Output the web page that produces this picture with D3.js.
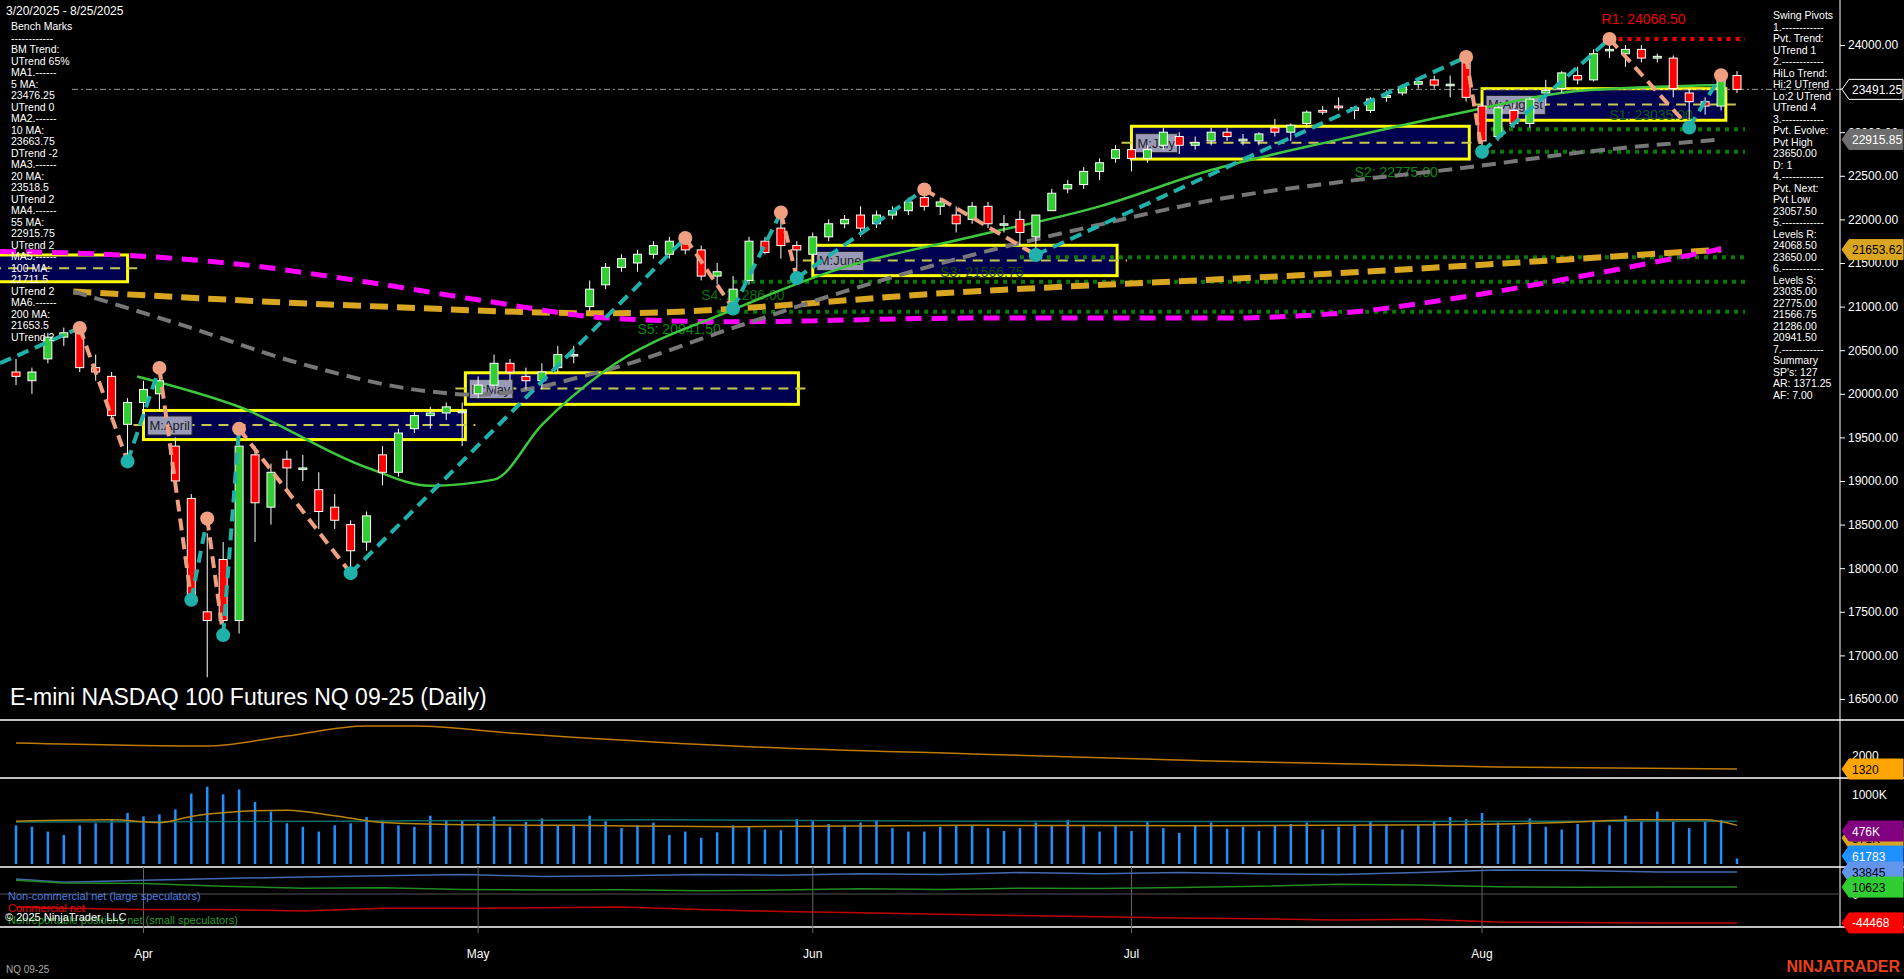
<!DOCTYPE html>
<html><head><meta charset="utf-8">
<script src="https://cdn.jsdelivr.net/npm/d3@7"></script>
<style>
body{margin:0;background:#000;overflow:hidden}
text{font-family:"Liberation Sans",Arial,sans-serif}
</style></head><body>
<script>
// daily bars 3/20/2025 - 8/25/2025 : [open, high, low, close]
const dates = ["3/20","3/21","3/24","3/25","3/26","3/27","3/28","3/31","4/1","4/2","4/3","4/4","4/7","4/8","4/9","4/10","4/11","4/14","4/15","4/16","4/17","4/21","4/22","4/23","4/24","4/25","4/28","4/29","4/30","5/1","5/2","5/5","5/6","5/7","5/8","5/9","5/12","5/13","5/14","5/15","5/16","5/19","5/20","5/21","5/22","5/23","5/27","5/28","5/29","5/30","6/2","6/3","6/4","6/5","6/6","6/9","6/10","6/11","6/12","6/13","6/16","6/17","6/18","6/20","6/23","6/24","6/25","6/26","6/27","6/30","7/1","7/2","7/3","7/7","7/8","7/9","7/10","7/11","7/14","7/15","7/16","7/17","7/18","7/21","7/22","7/23","7/24","7/25","7/28","7/29","7/30","7/31","8/1","8/4","8/5","8/6","8/7","8/8","8/11","8/12","8/13","8/14","8/15","8/18","8/19","8/20","8/21","8/22","8/25"];
const ohlc = [
[20250,20400,20100,20200],[20150,20300,20000,20250],[20400,20700,20350,20650],[20650,20760,20550,20700],[20700,20720,20250,20300],
[20300,20450,20150,20250],[20200,20250,19700,19750],[19650,19950,19250,19900],[19900,20150,19700,20050],[20000,20300,19800,20150],
[19400,19500,18900,19000],[18800,18850,17600,17700],[17500,18400,16750,17400],[18100,18300,17300,17400],[17400,19450,17250,19400],
[19300,19400,18300,18750],[18700,19200,18500,19100],[19250,19350,18900,19150],[19150,19300,19000,19150],[18900,19100,18450,18650],
[18700,18850,18450,18550],[18500,18550,17950,18200],[18300,18650,18200,18600],[19300,19400,18950,19100],[19100,19600,19050,19550],
[19600,19800,19550,19750],[19750,19850,19600,19780],[19780,19900,19700,19850],[19800,19900,19400,19800],[20000,20200,19950,20100],
[20100,20450,20050,20350],[20350,20400,20150,20250],[20200,20300,20050,20150],[20150,20350,20050,20250],[20300,20550,20250,20450],
[20450,20550,20350,20450],[21000,21300,20950,21200],[21250,21500,21200,21450],[21450,21600,21400,21550],[21500,21650,21400,21600],
[21600,21750,21550,21700],[21600,21800,21550,21750],[21750,21800,21600,21650],[21650,21700,21300,21350],[21350,21500,21250,21400],
[21050,21350,20950,21200],[21300,21800,21250,21750],[21750,21800,21600,21620],[21900,22080,21550,21700],[21700,21750,21350,21650],
[21600,21850,21500,21800],[21800,22000,21750,21950],[21950,22050,21900,22000],[22050,22150,21800,21900],[21950,22100,21900,22050],
[22050,22150,22000,22100],[22100,22250,22050,22200],[22250,22350,22100,22150],[22150,22250,22050,22200],[22050,22150,21850,21950],
[22000,22200,21950,22150],[22150,22200,21900,21950],[21950,22050,21850,21950],[22000,22100,21700,21850],[21800,22050,21600,22050],
[22100,22350,22100,22300],[22350,22450,22300,22400],[22400,22600,22350,22550],[22550,22700,22450,22650],[22700,22850,22650,22800],
[22800,22850,22550,22700],[22700,22850,22650,22800],[22850,23050,22800,23000],[22950,23000,22750,22850],[22850,22950,22800,22880],
[22900,23050,22850,23000],[23000,23050,22900,22950],[22900,22980,22850,22920],[22900,23000,22850,22980],[23050,23150,22950,23000],
[23000,23100,22900,23080],[23100,23250,23050,23230],[23250,23300,23200,23230],[23300,23400,23250,23280],[23280,23300,23150,23250],
[23250,23400,23220,23380],[23400,23480,23350,23420],[23450,23550,23420,23520],[23550,23620,23500,23580],[23600,23650,23500,23540],
[23550,23650,23400,23550],[23800,23860,23350,23400],[23300,23350,22700,22900],[22950,23300,22900,23280],[23250,23320,23050,23100],
[23100,23400,23050,23380],[23450,23600,23300,23480],[23500,23700,23450,23680],[23650,23750,23550,23600],[23600,23950,23580,23900],
[23950,24070,23850,23950],[23900,24000,23750,23950],[23950,24000,23800,23850],[23850,23900,23800,23870],[23850,23880,23400,23500],
[23450,23500,23050,23350],[23350,23400,23200,23300],[23300,23700,23250,23650],[23650,23700,23450,23491.25]];
// moving averages read at bar index
const ma20 = [[7.6,20199],[14,19851],[22,19155],[26,18946],[30,19016],[33,19643],[37,20269],[45,20965],[52,21453],[60,21801],[68,22149],[75,22566],[83,22915],[91,23235],[98,23472],[107,23541]];
const ma55 = [[3.6,21174],[10.5,20784],[18,20339],[25.7,20032],[28.8,19990],[37,20269],[45,20756],[52,21174],[60,21592],[68,21940],[75,22218],[83,22427],[91,22594],[98.5,22775],[107,22916]];
const ma100 = [[-1,21633],[6.6,21592],[14.3,21480],[21.9,21285],[29.5,21063],[37.2,20868],[44.8,20826],[60,20868],[75.4,20868],[83,20923],[90.6,21104],[98,21341],[107,21661]];
const ma200 = [[3.6,21174],[22,21007],[37,20923],[60,21174],[83,21383],[107,21654]];
// swing pivots [index, price]
const pivots = [[-1,20350],[4,20756],[7,19225],[9,20297],[11,17637],[12,18570],[13,17233],[14,19600],[21,17943],[42,21787],[45,20979],[48,22079],[49,21327],[57,22344],[64,21592],[91,23862],[92,22775],[100,24070],[105,23054],[107,23653]];
// monthly boxes [label, from, to, high, low]
const boxes = [["",-2,7,21592,21285],["M:April",8,28.2,19809,19475],["M:May",28.2,49.1,20241,19879],["M:June",50,69.1,21703,21355],["M:July",70,91.2,23068,22692],["M:August",92,107.3,23499,23137]];
// levels [label, price, from, colour]
const levels = [["R1: 24068.50",24068.5,100,"#e00"],["S1: 23035.00",23035,92,"#0a0"],["S2: 22775.00",22775,92,"#0a0"],["S3: 21566.75",21566.75,63,"#0a0"],["S4: 21286.00",21286,45,"#0a0"],["S5: 20941.50",20941.5,44,"#0a0"]];
const leftText = ["Bench Marks","------------","BM Trend:","UTrend 65%","MA1.------","5 MA:","23476.25","UTrend 0","MA2.------","10 MA:","23663.75","DTrend -2","MA3.------","20 MA:","23518.5","UTrend 2","MA4.------","55 MA:","22915.75","UTrend 2","MA5.------","100 MA:","21711.5","UTrend 2","MA6.------","200 MA:","21653.5","UTrend 2"];
const rightText = ["Swing Pivots","1.------------","Pvt. Trend:","UTrend 1","2.------------","HiLo Trend:","Hi:2 UTrend","Lo:2 UTrend","UTrend 4","3.------------","Pvt. Evolve:","Pvt High","23650.00","D: 1","4.------------","Pvt. Next:","Pvt Low","23057.50","5.------------","Levels R:","24068.50","23650.00","6.------------","Levels S:","23035.00","22775.00","21566.75","21286.00","20941.50","7.------------","Summary","SP's: 127","AR: 1371.25","AF: 7.00"];
// lower panels
const atr = [[0,2583],[12,2437],[17,2923],[22,3409],[25,3409],[31,3069],[45,2437],[60,2049],[75,1709],[93,1417],[108,1320]];
const volume = [560,540,470,420,560,590,650,740,690,720,790,1020,1120,1010,1080,900,760,590,540,470,560,590,680,620,560,540,700,640,630,590,690,540,610,660,560,560,700,620,520,560,600,420,470,380,460,560,550,500,490,650,620,580,560,600,640,520,470,470,540,560,560,520,480,520,600,560,640,560,470,560,480,610,520,450,560,600,510,540,480,560,580,600,500,540,560,620,580,500,560,620,680,650,740,600,560,660,540,500,580,620,560,700,620,760,620,520,610,640,80];
const volAvg = [[0,620],[6,640],[9,600],[11,690],[14,760],[17,780],[20,700],[23,600],[28,570],[35,560],[45,540],[60,560],[75,555],[90,570],[97,600],[102,640],[106,640],[108,560]];
const volSlow = [[0,610],[20,620],[40,640],[60,620],[80,615],[100,620],[108,620]];
const weeks = [0,3,8,13,18,23,28,33,38,43,48,53,58,63,68,73,78,83,88,93,98,103,108];
const cotLarge = [23000,18000,21000,24000,26000,28000,30000,27000,28000,30000,29000,31000,30000,33000,31000,33000,31000,30000,33000,37000,36000,34000,33845];
const cotSmall = [21000,17000,16000,12000,9000,9500,7000,6000,6500,5000,6000,8000,7000,9000,8500,10000,12000,15000,14000,11000,10500,10623,10623];
const cotComm = [-20000,-22000,-24000,-24000,-26000,-22000,-22000,-21000,-20000,-24000,-27000,-29000,-31000,-33000,-35000,-37000,-38000,-40000,-39000,-43000,-44000,-44468,-44468];
const months = [["Apr",8],["May",29],["Jun",50],["Jul",70],["Aug",92]];

const W = 1904, H = 979, AX = 1840;
const svg = d3.select("body").append("svg").attr("width", W).attr("height", H).style("background", "#000");

const x = d3.scaleLinear().domain([0, 108]).range([16, 1737]);
const y = d3.scaleLinear().domain([16500, 24000]).range([699, 45]);
const yAtr = d3.scaleLinear().domain([1320, 2000]).range([769, 755]);
const yVol = d3.scaleLinear().domain([0, 1000]).range([864, 795]);
const yCot = d3.scaleLinear().domain([0, 33845]).range([894, 872]);

svg.append("defs").append("clipPath").attr("id", "pc").append("rect").attr("width", AX).attr("height", 720);
const p = svg.append("g").attr("clip-path", "url(#pc)");
const line = (ys) => d3.line().x((d) => x(d[0])).y((d) => ys(d[1])).curve(d3.curveMonotoneX);

// monthly boxes
const bx = p.selectAll(".box").data(boxes).enter().append("g");
bx.append("rect").attr("x", (d) => x(d[1])).attr("y", (d) => y(d[3]))
  .attr("width", (d) => x(d[2]) - x(d[1])).attr("height", (d) => y(d[4]) - y(d[3]))
  .attr("fill", "#000050").attr("stroke", "#ffff00").attr("stroke-width", 3);
bx.append("line").attr("x1", (d) => x(d[1]) - 10).attr("x2", (d) => x(d[2]) + 10)
  .attr("y1", (d) => y((d[3] + d[4]) / 2)).attr("y2", (d) => y((d[3] + d[4]) / 2))
  .attr("stroke", "#c8c850").attr("stroke-width", 2).attr("stroke-dasharray", "10,7");

// levels
p.selectAll(".lvl").data(levels).enter().append("line")
  .attr("x1", (d) => x(d[2])).attr("x2", x(108.5)).attr("y1", (d) => y(d[1])).attr("y2", (d) => y(d[1]))
  .attr("stroke", (d) => d[3] === "#e00" ? "#e00" : "#0a7a0a").attr("stroke-width", 4).attr("stroke-dasharray", "4,5");
p.append("text").attr("x", x(99.5)).attr("y", 24).attr("fill", "#e00").attr("font-size", 14).text(levels[0][0]);
[[1, 100, 120, "#0b5e0b"], [2, 84, 177, "#0a8a0a"], [3, 58, 277, "#0b4e0b"], [4, 43, 300, "#0b6e0b"], [5, 39, 334, "#0a8a0a"]].forEach(([i, xi, yy, c]) =>
  p.append("text").attr("x", x(xi)).attr("y", yy).attr("fill", c).attr("font-size", 14).text(levels[i][0]));

// current price line
p.append("line").attr("x1", 72).attr("x2", AX).attr("y1", y(23491.25)).attr("y2", y(23491.25))
  .attr("stroke", "#999").attr("stroke-dasharray", "6,3,2,3");

// moving averages
p.append("path").datum(ma200).attr("d", line(y)).attr("fill", "none").attr("stroke", "#daa520").attr("stroke-width", 6).attr("stroke-dasharray", "18,9");
p.append("path").datum(ma100).attr("d", line(y)).attr("fill", "none").attr("stroke", "#ff00ff").attr("stroke-width", 5).attr("stroke-dasharray", "16,10");
p.append("path").datum(ma55).attr("d", line(y)).attr("fill", "none").attr("stroke", "#777").attr("stroke-width", 4).attr("stroke-dasharray", "14,8");
p.append("path").datum(ma20).attr("d", line(y)).attr("fill", "none").attr("stroke", "#3ec83e").attr("stroke-width", 2.5);

// candles
const cw = 8;
const c = p.selectAll(".c").data(ohlc).enter().append("g");
c.append("line").attr("x1", (d, i) => x(i)).attr("x2", (d, i) => x(i)).attr("y1", (d) => y(d[1])).attr("y2", (d) => y(d[2])).attr("stroke", "#fff");
c.append("rect").attr("x", (d, i) => x(i) - cw / 2).attr("width", cw)
  .attr("y", (d) => y(Math.max(d[0], d[3]))).attr("height", (d) => Math.max(1.5, Math.abs(y(d[0]) - y(d[3]))))
  .attr("fill", (d) => d[3] >= d[0] ? "#32cd32" : "#ff0000").attr("stroke", "#fff").attr("stroke-width", 1);

// swing legs
const legs = d3.pairs(pivots);
p.selectAll(".leg").data(legs).enter().append("line")
  .attr("x1", (d) => x(d[0][0])).attr("y1", (d) => y(d[0][1])).attr("x2", (d) => x(d[1][0])).attr("y2", (d) => y(d[1][1]))
  .attr("stroke", (d) => d[1][1] > d[0][1] ? "#20b2aa" : "#f0a080").attr("stroke-width", 4).attr("stroke-dasharray", "12,7");
p.selectAll(".pv").data(legs).enter().append("circle")
  .attr("cx", (d) => x(d[1][0])).attr("cy", (d) => y(d[1][1])).attr("r", 7)
  .attr("fill", (d) => d[1][1] > d[0][1] ? "#f0a080" : "#20b2aa");

// box labels
bx.filter((d) => d[0]).append("text").attr("x", (d) => x(d[1]) + 6).attr("y", (d) => y((d[3] + d[4]) / 2) + 5)
  .attr("fill", "#222").attr("font-family", "DejaVu Sans Mono").attr("font-size", 13).text((d) => d[0])
  .each(function () {
    const b = this.getBBox();
    d3.select(this.parentNode).insert("rect", "text").attr("x", b.x - 2).attr("y", b.y - 2).attr("width", b.width + 4).attr("height", b.height + 4).attr("fill", "#9a9ab8").attr("stroke", "#222");
  });

// side texts
svg.append("text").attr("x", 6).attr("y", 15).attr("fill", "#fff").attr("font-size", 12).text("3/20/2025 - 8/25/2025");
svg.selectAll(".lt").data(leftText).enter().append("text").attr("x", 11).attr("y", (d, i) => 30 + i * 11.5).attr("fill", "#fff").attr("font-size", 10.5).text((d) => d);
svg.selectAll(".rt").data(rightText).enter().append("text").attr("x", 1773).attr("y", (d, i) => 19 + i * 11.5).attr("fill", "#fff").attr("font-size", 10.5).text((d) => d);
svg.append("text").attr("x", 10).attr("y", 705).attr("fill", "#fff").attr("font-size", 23).text("E-mini NASDAQ 100 Futures NQ 09-25 (Daily)");

// price axis
const ax = svg.append("g").attr("transform", `translate(${AX},0)`)
  .call(d3.axisRight(y).tickValues(d3.range(16500, 24001, 500)).tickFormat(d3.format(".2f")).tickSize(5));
ax.select(".domain").remove();
ax.selectAll("line").attr("stroke", "#fff");
ax.selectAll("text").attr("fill", "#fff").attr("font-size", 12);
svg.append("line").attr("x1", AX).attr("x2", AX).attr("y1", 0).attr("y2", 927).attr("stroke", "#fff");

function tag(v, yy, fill, tc, edge) {
  const g = svg.append("g").attr("transform", `translate(${AX + 2},${yy})`);
  g.append("path").attr("d", "M0,0 L7,-10 L61,-10 L61,10 L7,10 Z").attr("fill", fill).attr("stroke", edge || fill).attr("stroke-width", 1);
  g.append("text").attr("x", 10).attr("y", 4.5).attr("fill", tc).attr("font-size", 12).text(v);
}
tag("23491.25", y(23491.25), "#000", "#fff", "#fff");
tag("22915.85", y(22915.85), "#6e6e6e", "#fff");
tag("21653.62", y(21653.62), "#daa520", "#000");

// panel separators
[720, 778, 867, 927].forEach((yy) => svg.append("line").attr("x1", 0).attr("x2", W).attr("y1", yy).attr("y2", yy).attr("stroke", "#fff").attr("stroke-width", 1.5));

// month grid + labels
months.forEach(([m, i]) => {
  svg.append("line").attr("x1", x(i)).attr("x2", x(i)).attr("y1", 867).attr("y2", 933).attr("stroke", "#666");
  svg.append("text").attr("x", x(i)).attr("y", 958).attr("text-anchor", "middle").attr("fill", "#fff").attr("font-size", 12).text(m);
});

// ATR panel
svg.append("path").datum(atr).attr("d", line(yAtr)).attr("fill", "none").attr("stroke", "#c07a00").attr("stroke-width", 1.5);
svg.append("text").attr("x", 1852).attr("y", 760).attr("fill", "#fff").attr("font-size", 12).text("2000");
tag("1320", 769, "#ffa500", "#000");

// volume panel
svg.selectAll(".v").data(volume).enter().append("line")
  .attr("x1", (d, i) => x(i)).attr("x2", (d, i) => x(i)).attr("y1", yVol(0)).attr("y2", (d) => yVol(d))
  .attr("stroke", "#1e90ff").attr("stroke-width", 2.5);
svg.append("path").datum(volSlow).attr("d", line(yVol)).attr("fill", "none").attr("stroke", "#0b6e6e").attr("stroke-width", 1.5);
svg.append("path").datum(volAvg).attr("d", line(yVol)).attr("fill", "none").attr("stroke", "#b8860b").attr("stroke-width", 1.5);
svg.append("text").attr("x", 1852).attr("y", 799).attr("fill", "#fff").attr("font-size", 12).text("1000K");
tag("571K", 838, "#daa520", "#000");
tag("476K", 831, "#800080", "#fff");
tag("61783", 856, "#1e90ff", "#fff");

// COT panel
svg.append("line").attr("x1", 0).attr("x2", AX).attr("y1", yCot(0)).attr("y2", yCot(0)).attr("stroke", "#555");
const cl = (arr, col) => svg.append("path").datum(weeks.map((w, i) => [w, arr[i]])).attr("d", d3.line().x((d) => x(d[0])).y((d) => yCot(d[1])))
  .attr("fill", "none").attr("stroke", col).attr("stroke-width", 1.5);
cl(cotLarge, "#4169b0"); cl(cotSmall, "#228b22"); cl(cotComm, "#c00000");
svg.append("text").attr("x", 1852).attr("y", 899).attr("fill", "#fff").attr("font-size", 12).text("0");
tag("33845", yCot(33845), "#6495ed", "#000");
tag("10623", yCot(10623), "#32cd32", "#000");
tag("-44468", yCot(-44468), "#ff0000", "#fff");
svg.append("text").attr("x", 8).attr("y", 900).attr("fill", "#4a7fe0").attr("font-size", 11).text("Non-commercial net (large speculators)");
svg.append("text").attr("x", 8).attr("y", 912).attr("fill", "#e00").attr("font-size", 11).text("Commercial net");
svg.append("text").attr("x", 8).attr("y", 924).attr("fill", "#2a9a2a").attr("font-size", 11).text("Nonreportable positions net (small speculators)");
svg.append("text").attr("x", 5).attr("y", 921).attr("fill", "#fff").attr("font-size", 11).text("© 2025 NinjaTrader, LLC");

svg.append("text").attr("x", 6).attr("y", 973).attr("fill", "#aaa").attr("font-size", 10).text("NQ 09-25");
svg.append("text").attr("x", 1900).attr("y", 972).attr("text-anchor", "end").attr("fill", "#e8401c").attr("font-size", 16).attr("font-weight", "bold").text("NINJATRADER");
</script></body></html>
